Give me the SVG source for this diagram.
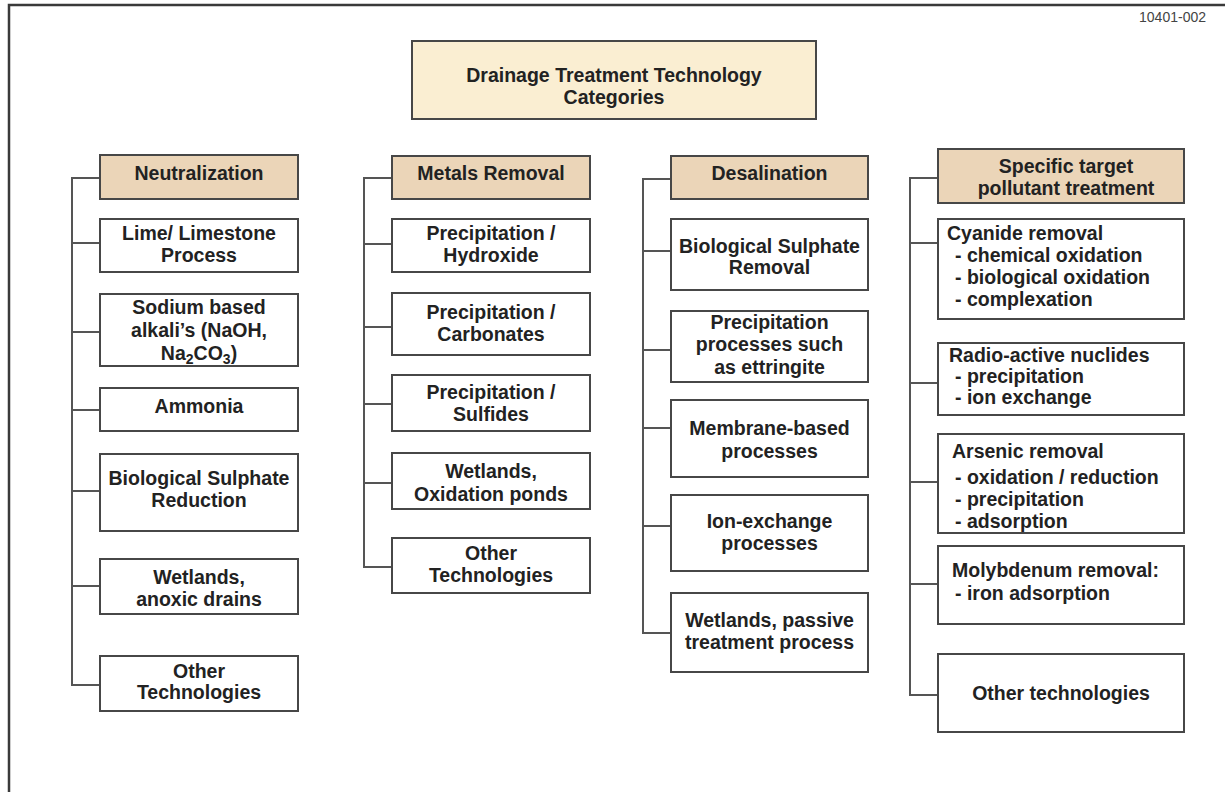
<svg xmlns="http://www.w3.org/2000/svg" width="1225" height="792" viewBox="0 0 1225 792">
<style>
.t{font-family:"Liberation Sans",Arial,Helvetica,sans-serif;font-weight:bold;font-size:19.5px;fill:#222;text-anchor:middle}
.l{text-anchor:start}
.box{fill:#fff;stroke:#474747;stroke-width:2}
.hdr{fill:#ebd5b8;stroke:#474747;stroke-width:2}
.ttl{fill:#faeed2;stroke:#474747;stroke-width:2}
.sh{fill:none;stroke:#aaa;stroke-width:1}
.c{fill:none;stroke:#555;stroke-width:2}
.id{font-family:"Liberation Sans",Arial,sans-serif;font-size:14px;fill:#444;text-anchor:end}
</style>
<rect width="1225" height="792" fill="#fff"/>
<path d="M9,792 V5 H1225" fill="none" stroke="#3a3a3a" stroke-width="2.5"/>
<text class="id" x="1206" y="22">10401-002</text>

<g id="connectors">
<path class="c" d="M100,178 H72 V685 H100 M72,243 H100 M72,332 H100 M72,410 H100 M72,491 H100 M72,586 H100"/>
<path class="c" d="M392,178 H364 V567 H392 M364,244 H392 M364,327 H392 M364,404 H392 M364,483 H392"/>
<path class="c" d="M671,179 H643 V633 H671 M643,251 H671 M643,350 H671 M643,428 H671 M643,526 H671"/>
<path class="c" d="M938,178 H910 V695 H938 M910,243 H938 M910,383 H938 M910,482 H938 M910,584 H938"/>
</g>

<g id="title"><rect class="ttl" x="412" y="41" width="404" height="78"/>
<text class="t" x="614" y="82">Drainage Treatment Technology</text><text class="t" x="614" y="104">Categories</text></g>

<g id="neutralization"><rect class="hdr" x="100" y="155" width="198" height="44"/><text class="t" x="199" y="180">Neutralization</text></g>
<g id="lime"><rect class="box" x="100" y="219" width="198" height="53"/><text class="t" x="199" y="240">Lime/ Limestone</text><text class="t" x="199" y="262">Process</text></g>
<g id="sodium"><rect class="box" x="100" y="294" width="198" height="72"/><text class="t" x="199" y="314">Sodium based</text><text class="t" x="199" y="337">alkali’s (NaOH,</text><text class="t" x="199" y="360">Na<tspan font-size="14" dy="4">2</tspan><tspan dy="-4">CO</tspan><tspan font-size="14" dy="4">3</tspan><tspan dy="-4">)</tspan></text></g>
<g id="ammonia"><rect class="box" x="100" y="388" width="198" height="43"/><text class="t" x="199" y="413">Ammonia</text></g>
<g id="bsr"><rect class="box" x="100" y="454" width="198" height="77"/><text class="t" x="199" y="485">Biological Sulphate</text><text class="t" x="199" y="507">Reduction</text></g>
<g id="wetlands-anoxic"><rect class="box" x="100" y="559" width="198" height="55"/><text class="t" x="199" y="584">Wetlands,</text><text class="t" x="199" y="606">anoxic drains</text></g>
<g id="other-neut"><rect class="box" x="100" y="656" width="198" height="55"/><text class="t" x="199" y="678">Other</text><text class="t" x="199" y="699">Technologies</text></g>

<g id="metals"><rect class="hdr" x="392" y="156" width="198" height="43"/><text class="t" x="491" y="180">Metals Removal</text></g>
<g id="hydroxide"><rect class="box" x="392" y="219" width="198" height="53"/><text class="t" x="491" y="240">Precipitation /</text><text class="t" x="491" y="262">Hydroxide</text></g>
<g id="carbonates"><rect class="box" x="392" y="293" width="198" height="62"/><text class="t" x="491" y="319">Precipitation /</text><text class="t" x="491" y="341">Carbonates</text></g>
<g id="sulfides"><rect class="box" x="392" y="375" width="198" height="56"/><text class="t" x="491" y="399">Precipitation /</text><text class="t" x="491" y="421">Sulfides</text></g>
<g id="wetlands-ox"><rect class="box" x="392" y="453" width="198" height="56"/><text class="t" x="491" y="478">Wetlands,</text><text class="t" x="491" y="501">Oxidation ponds</text></g>
<g id="other-metals"><rect class="box" x="392" y="538" width="198" height="55"/><text class="t" x="491" y="560">Other</text><text class="t" x="491" y="582">Technologies</text></g>

<g id="desalination"><rect class="hdr" x="671" y="156" width="197" height="43"/><text class="t" x="769.5" y="180">Desalination</text></g>
<g id="bsrem"><rect class="box" x="671" y="219" width="197" height="71"/><text class="t" x="769.5" y="253">Biological Sulphate</text><text class="t" x="769.5" y="274">Removal</text></g>
<g id="ettringite"><rect class="box" x="671" y="311" width="197" height="71"/><text class="t" x="769.5" y="329">Precipitation</text><text class="t" x="769.5" y="351">processes such</text><text class="t" x="769.5" y="374">as ettringite</text></g>
<g id="membrane"><rect class="box" x="671" y="400" width="197" height="77"/><text class="t" x="769.5" y="435">Membrane-based</text><text class="t" x="769.5" y="458">processes</text></g>
<g id="ionex"><rect class="box" x="671" y="495" width="197" height="76"/><text class="t" x="769.5" y="528">Ion-exchange</text><text class="t" x="769.5" y="550">processes</text></g>
<g id="wetlands-passive"><rect class="box" x="671" y="593" width="197" height="79"/><text class="t" x="769.5" y="627">Wetlands, passive</text><text class="t" x="769.5" y="649">treatment process</text></g>

<g id="specific"><rect class="hdr" x="938" y="149" width="246" height="54"/><text class="t" x="1066" y="173">Specific target</text><text class="t" x="1066" y="195">pollutant treatment</text></g>
<g id="cyanide"><rect class="box" x="938" y="219" width="246" height="100"/><text class="t l" x="947" y="240">Cyanide removal</text><text class="t l" x="955" y="262">- chemical oxidation</text><text class="t l" x="955" y="284">- biological oxidation</text><text class="t l" x="955" y="306">- complexation</text></g>
<g id="radio"><rect class="box" x="938" y="343" width="246" height="72"/><text class="t l" x="949" y="362">Radio-active nuclides</text><text class="t l" x="955" y="383">- precipitation</text><text class="t l" x="955" y="404">- ion exchange</text></g>
<g id="arsenic"><rect class="box" x="938" y="434" width="246" height="99"/><text class="t l" x="952" y="458">Arsenic removal</text><text class="t l" x="955" y="484">- oxidation / reduction</text><text class="t l" x="955" y="506">- precipitation</text><text class="t l" x="955" y="528">- adsorption</text></g>
<g id="molybdenum"><rect class="box" x="938" y="546" width="246" height="78"/><text class="t l" x="952" y="577">Molybdenum removal:</text><text class="t l" x="955" y="600">- iron adsorption</text></g>
<g id="other-specific"><rect class="box" x="938" y="654" width="246" height="78"/><text class="t" x="1061" y="700">Other technologies</text></g>
</svg>
